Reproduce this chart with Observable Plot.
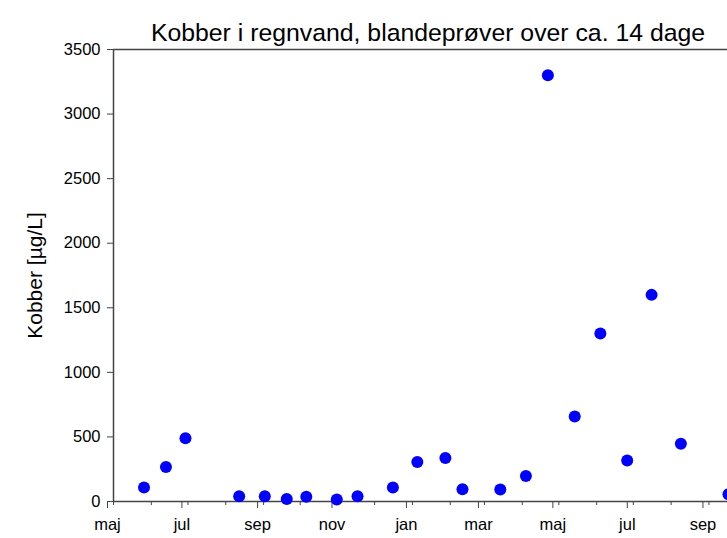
<!DOCTYPE html>
<html>
<head>
<meta charset="utf-8">
<script src="https://cdn.jsdelivr.net/npm/d3@7"></script>
<script src="https://cdn.jsdelivr.net/npm/@observablehq/plot@0.6"></script>
<style>
  html, body { margin: 0; padding: 0; background: #fff; }
  #chart svg { display: block; font-family: "Liberation Sans", Arial, sans-serif; }
</style>
</head>
<body>
<div id="chart"></div>
<script>
const title = "Kobber i regnvand, blandeprøver over ca. 14 dage";
const yLabel = "Kobber [µg/L]";
const sampleDates = [
  "2005-05-26","2005-06-13","2005-06-29","2005-08-12","2005-09-02","2005-09-20",
  "2005-10-06","2005-10-31","2005-11-17","2005-12-16","2006-01-05","2006-01-28",
  "2006-02-11","2006-03-14","2006-04-04","2006-04-22","2006-05-14","2006-06-04",
  "2006-06-26","2006-07-16","2006-08-09","2006-09-17"
];
const copper = [
  108, 267, 489, 41, 41, 20,
  36, 15, 41, 108, 306, 337,
  95, 93, 198, 3300, 659, 1300,
  317, 1600, 448, 56
];
const monthNames = ["jan","feb","mar","apr","maj","jun","jul","aug","sep","okt","nov","dec"];
const yTicks = [0, 500, 1000, 1500, 2000, 2500, 3000, 3500];
const xStart = "2005-05-01";
const xEnd = "2006-09-16T05:00:00Z";

const data = sampleDates.map((d, i) => ({date: new Date(d), value: copper[i]}));
const x0 = new Date(xStart), x1 = new Date(xEnd);
const minorTicks = d3.utcMonth.range(x0, x1);
const majorTicks = d3.utcMonth.every(2).range(x0, x1);
const axisColor = "#444";

const chart = Plot.plot({
  width: 727,
  height: 538,
  marginTop: 49,
  marginBottom: 37,
  marginLeft: 113,
  marginRight: 0,
  style: {fontFamily: "'Liberation Sans', Arial, sans-serif", fontSize: "16.5px", color: "#000", background: "#fff"},
  x: {type: "utc", domain: [x0, x1]},
  y: {domain: [0, 3500]},
  marks: [
    Plot.axisY({ticks: yTicks, tickSize: 6, tickPadding: 7, stroke: axisColor, fontSize: 16.5,
      tickFormat: d => String(d), label: null}),
    Plot.text([yLabel], {text: d => d, frameAnchor: "left", textAnchor: "middle", lineAnchor: "middle",
      dx: -78, rotate: -90, fontSize: 21, fill: "#000"}),
    Plot.axisX({ticks: minorTicks, tickSize: 4, tickFormat: () => "", stroke: axisColor, label: null}),
    Plot.axisX({ticks: majorTicks, tickSize: 7, tickPadding: 10, stroke: axisColor, fontSize: 16.5,
      tickFormat: d => monthNames[d.getUTCMonth()], dx: -6, label: null}),
    Plot.ruleY([0], {stroke: axisColor, strokeWidth: 1.5}),
    Plot.ruleY([3500], {stroke: axisColor, strokeWidth: 1.5}),
    Plot.ruleX([x0], {stroke: axisColor, strokeWidth: 1.5}),
    Plot.dot(data, {x: "date", y: "value", r: 6, fill: "#0000ff", stroke: null}),
    Plot.text([title], {text: d => d, frameAnchor: "top", dy: -9, dx: 7.5, lineAnchor: "bottom", fontSize: 24.8, fill: "#000"})
  ]
});
document.getElementById("chart").append(chart);
</script>
</body>
</html>
